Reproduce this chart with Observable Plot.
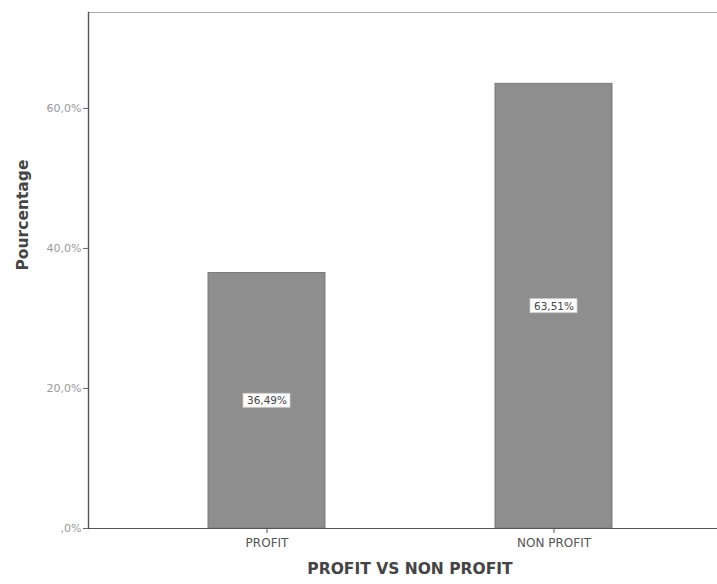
<!DOCTYPE html>
<html>
<head>
<meta charset="utf-8">
<script src="https://cdn.jsdelivr.net/npm/d3@7"></script>
<script src="https://cdn.jsdelivr.net/npm/@observablehq/plot@0.6"></script>
<style>
  html, body { margin: 0; padding: 0; background: white; overflow: hidden; }
</style>
</head>
<body>
<div id="chart"></div>
<script>
const categories = ["PROFIT", "NON PROFIT"];
const percentages = [36.49, 63.51];
const valueLabels = ["36,49%", "63,51%"];
const yTicks = [0, 20, 40, 60];
const yTickLabels = [",0%", "20,0%", "40,0%", "60,0%"];
const yTitle = "Pourcentage";
const xTitle = "PROFIT VS NON PROFIT";

const data = categories.map((c, i) => ({cat: c, v: percentages[i], label: valueLabels[i]}));
const yMax = 73.7;
const font = "DejaVu Sans, sans-serif";

const chart = Plot.plot({
  width: 717,
  height: 584,
  marginLeft: 88,
  marginRight: -14,
  marginTop: 12,
  marginBottom: 56,
  style: {fontFamily: font, background: "white"},
  x: {domain: categories, paddingInner: 0.594, paddingOuter: 0.4135, label: null},
  y: {domain: [0, yMax], label: null},
  marks: [
    Plot.barY(data, {x: "cat", y: "v", fill: "#8e8e8e", stroke: "#7a7a7a", strokeWidth: 1}),
    Plot.ruleY([yMax], {stroke: "#aaa", strokeWidth: 1.2}),
    Plot.ruleY([0], {stroke: "#555", strokeWidth: 1.2}),
    Plot.frame({anchor: "left", stroke: "#555", strokeWidth: 1.4}),
    Plot.axisY({ticks: yTicks, tickFormat: d => yTickLabels[yTicks.indexOf(d)], tickSize: 5, tickPadding: 2, fontSize: 11, fill: "#999", stroke: "#666", label: null}),
    Plot.axisX({tickSize: 5, tickPadding: 5, fontSize: 12, fill: "#555", stroke: "#555", label: null}),
    Plot.barY(data, {x: "cat", y1: d => d.v / 2 - 1, y2: d => d.v / 2 + 1, fill: "white", stroke: "#ccc", strokeWidth: 0.8, insetLeft: 35, insetRight: 35}),
    Plot.text(data, {x: "cat", y: d => d.v / 2, text: "label", fontSize: 10.5, fill: "#444", fontFamily: font}),
    Plot.text([yTitle], {frameAnchor: "left", dx: -65, rotate: -90, fontSize: 15.5, fontWeight: "bold", fill: "#444", fontFamily: font}),
    Plot.text([xTitle], {frameAnchor: "bottom", dy: 45, fontSize: 15.5, fontWeight: "bold", fill: "#444", fontFamily: font})
  ]
});
document.getElementById("chart").appendChild(chart);
</script>
</body>
</html>
